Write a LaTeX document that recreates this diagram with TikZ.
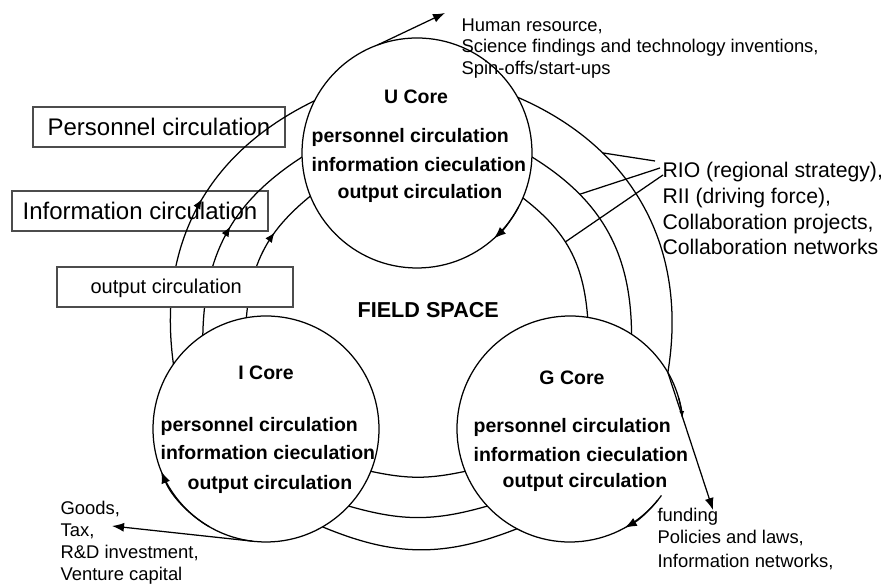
\documentclass[tikz,border=0pt]{standalone}
\usepackage{fontspec}
\setmainfont{Liberation Sans}
\usetikzlibrary{arrows.meta,decorations.markings}
\begin{document}
\begin{tikzpicture}[x=1pt,y=1pt,line width=1.25pt,
  core/.style={circle,inner sep=0pt,outer sep=0pt,minimum size=#1},
  coretitle/.style={anchor=base,inner sep=0pt,font=\fontsize{19.5}{23}\selectfont\bfseries},
  coreline/.style={anchor=base west,inner sep=0pt,font=\fontsize{19.5}{23}\selectfont\bfseries},
  flowbox/.style={draw=black!70,line width=1.6pt,inner sep=0pt,outer sep=0pt,font=\fontsize{24}{28}\selectfont},
  boxtext/.style={anchor=base west,inner sep=0pt,font=\fontsize{20}{24}\selectfont},
  note/.style={anchor=base west,inner sep=0pt,font=\fontsize{18.4}{22}\selectfont},
  bignote/.style={anchor=base west,inner sep=0pt,font=\fontsize{21.2}{25}\selectfont},
  ring/.style={looseness=1.03},
  tip/.style={-{Latex[length=12pt,width=9pt]}},
  flowmark/.style={postaction={decorate},decoration={markings,mark=at position #1 with {\arrow{Latex[length=10pt,width=8pt]}}}},
]
\useasboundingbox (0,0) rectangle (884,585);

% the three cores
\node[core=230pt,draw] (U) at (417,432) {};
\node[core=226pt,draw] (I) at (266,156) {};
\node[core=226pt] (G) at (570,156) {};
\draw (G.6) arc[start angle=6,end angle=321,radius=113pt];

% circulation legend boxes
\node[flowbox,minimum width=252pt,minimum height=40pt] (pbox) at (159,458) {Personnel circulation};
\node[flowbox,minimum width=256pt,minimum height=40pt] (ibox) at (140,374) {Information circulation};

% rings between I and U (flowing upwards)
\draw[ring,flowmark=0.53] (I.145) to[bend left=36] (U.153);
\draw[ring,flowmark=0.53] (I.124) to[bend left=28] (U.182);
\draw[ring,flowmark=0.64] (I.100) to[bend left=23] (U.202);

\node[flowbox,fill=white,minimum width=236pt,minimum height=40pt] (obox) at (175,298) {};
\node[boxtext] (otext) at (90,291) {output circulation};

% rings between U and G
\draw[ring] (U.29) to[bend left=38] coordinate[pos=0.29] (ro) (G.30);
\draw[ring] (U.-2) to[bend left=29] coordinate[pos=0.27] (rm) (G.57);
\draw[ring] (U.-23) to[bend left=24] coordinate[pos=0.43] (ri) (G.81);

% rings between I and G
\draw[ring] (I.-22) to[bend right=12] (G.202);
\draw[ring] (I.-43) to[bend right=16] (G.223);
\draw[ring] (I.-60) to[bend right=22] (G.242);

% regional links
\coordinate (r1) at (655,424);
\coordinate (r2) at (660,417);
\coordinate (r3) at (663,410);
\draw (r1) -- (ro);
\draw (r2) -- (rm);
\draw (r3) -- (ri);

% outputs of each core
\coordinate (hrtip) at (445,572);
\draw[tip] (U.110) -- (hrtip);
\coordinate (goodstip) at (112,59);
\draw[tip] (I.263) -- (goodstip);
\coordinate (fundtip) at (713,75);
\draw[tip] (G.30) -- (fundtip);

% inner circulation of each core
\draw[tip] (U.-28) arc[start angle=-28,end angle=-48,radius=115pt];
\draw[tip] (I.240) arc[start angle=240,end angle=202,radius=113pt];
\draw[tip] (G.-36) arc[start angle=-36,end angle=-61,radius=113pt];
\draw[-{Latex[length=6pt,width=5pt]}] (G.16) arc[start angle=16,end angle=6,radius=113pt];

% core texts
\node[coretitle] (ut) at (416,481) {U Core};
\node[coreline] (u1) at (311,442) {personnel circulation};
\node[coreline] (u2) at (311,413) {information cieculation};
\node[coreline] (u3) at (337,386) {output circulation};

\node[coretitle] (it) at (266,205) {I Core};
\node[coreline] (i1) at (160,153) {personnel circulation};
\node[coreline] (i2) at (160,125) {information cieculation};
\node[coreline] (i3) at (187,95) {output circulation};

\node[coretitle] (gt) at (572,200) {G Core};
\node[coreline] (g1) at (473,152) {personnel circulation};
\node[coreline] (g2) at (473,123) {information cieculation};
\node[coreline] (g3) at (502,97) {output circulation};

\node[anchor=base west,inner sep=0pt,font=\fontsize{21.6}{26}\selectfont\bfseries] (field) at (357,267) {FIELD SPACE};

% outside annotations
\node[note] (hr1) at (461,553) {Human resource,};
\node[note] (hr2) at (461,532) {Science findings and technology inventions,};
\node[note] (hr3) at (461,510) {Spin-offs/start-ups};

\node[bignote] (rio1) at (662,407) {RIO (regional strategy),};
\node[bignote] (rio2) at (662,381) {RII (driving force),};
\node[bignote] (rio3) at (662,355) {Collaboration projects,};
\node[bignote] (rio4) at (662,330) {Collaboration networks};

\node[note] (gd1) at (60,70) {Goods,};
\node[note] (gd2) at (60,48) {Tax,};
\node[note] (gd3) at (60,26) {R\&D investment,};
\node[note] (gd4) at (60,4) {Venture capital};

\node[note] (fd1) at (657,63) {funding};
\node[note] (fd2) at (657,41) {Policies and laws,};
\node[note] (fd3) at (657,17) {Information networks,};
\end{tikzpicture}
\end{document}
